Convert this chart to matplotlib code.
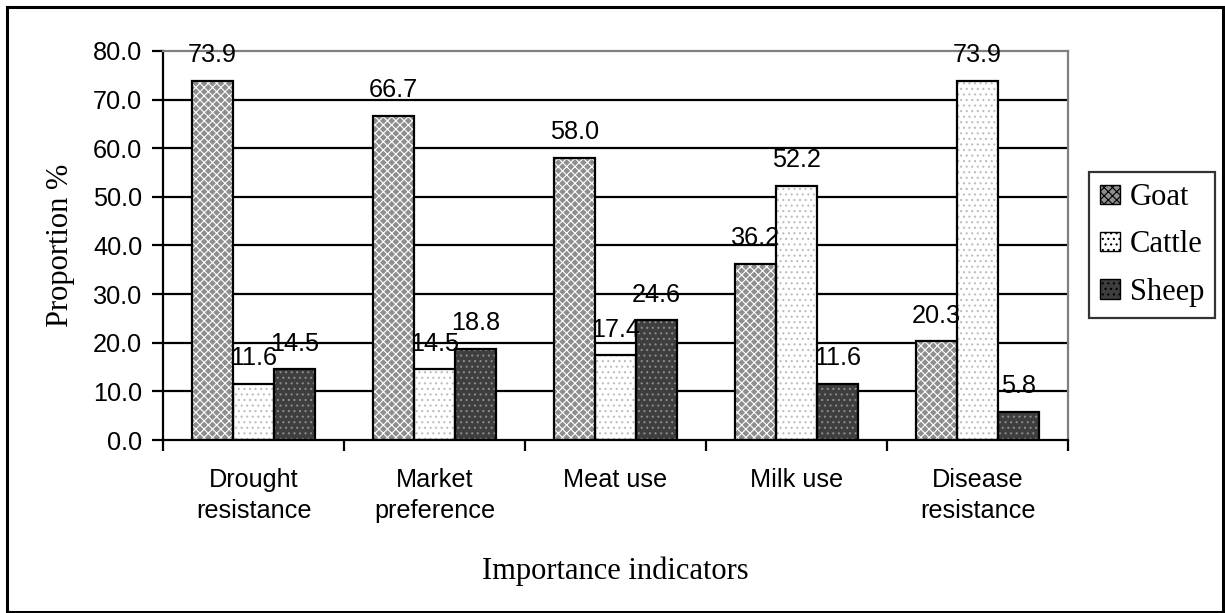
import matplotlib
matplotlib.use("Agg")
import matplotlib.pyplot as plt
from matplotlib.patches import Rectangle, Patch
import numpy as np

categories = ["Drought\nresistance", "Market\npreference", "Meat use", "Milk use", "Disease\nresistance"]
series_names = ["Goat", "Cattle", "Sheep"]
goat = [73.9, 66.7, 58.0, 36.2, 20.3]
cattle = [11.6, 14.5, 17.4, 52.2, 73.9]
sheep = [14.5, 18.8, 24.6, 11.6, 5.8]
y_ticks = [0, 10, 20, 30, 40, 50, 60, 70, 80]

SANS = "Liberation Sans"
SERIF = "Liberation Serif"
FS = 18.2

# face colour, hatch pattern, hatch colour for each series
styles = [
    ("#8e8e8e", "xxxx", "#ffffff"),
    ("#ffffff", "...", "#bdbdbd"),
    ("#3e3e3e", "...", "#8a8a8a"),
]

plt.rcParams["hatch.linewidth"] = 0.8

fig = plt.figure(figsize=(12.25, 6.13), dpi=100)
ax = fig.add_axes([163 / 1225, 1 - 440 / 613, (1068 - 163) / 1225, (440 - 51) / 613])

x = np.arange(len(categories))
w = 0.2265
data = [goat, cattle, sheep]
for k, (vals, (fc, hatch, hc)) in enumerate(zip(data, styles)):
    pos = x + (k - 1) * w
    ax.bar(pos, vals, w, color=fc, hatch=hatch, edgecolor=hc, linewidth=0, zorder=2)
    ax.bar(pos, vals, w, fill=False, edgecolor="black", linewidth=1.6, zorder=3)
    for px, v in zip(pos, vals):
        ax.annotate(f"{v:.1f}", (px, v), xytext=(0, 13.5), textcoords="offset points",
                    ha="center", va="baseline", fontsize=FS, family=SANS, zorder=4)

ax.set_xlim(-0.5, len(categories) - 0.5)
ax.set_ylim(0, 80)
ax.set_yticks(y_ticks)
ax.set_yticklabels([f"{t:.1f}" for t in y_ticks], family=SANS, fontsize=FS)
for t in y_ticks[1:-1]:
    ax.axhline(t, color="black", linewidth=1.6, zorder=1)

ax.set_xticks(np.arange(-0.5, len(categories), 1.0))
ax.set_xticklabels([])
ax.set_xticks(x, minor=True)
ax.set_xticklabels(categories, minor=True, family=SANS, fontsize=FS, va="top", linespacing=1.38)
ax.tick_params(axis="x", which="minor", length=0, pad=20)
ax.tick_params(axis="x", which="major", length=8, width=1.6, direction="out")
ax.tick_params(axis="y", length=8, width=1.6, direction="out", pad=7)

for side in ("left", "bottom"):
    ax.spines[side].set_color("black")
    ax.spines[side].set_linewidth(1.6)
for side in ("top", "right"):
    ax.spines[side].set_color("#808080")
    ax.spines[side].set_linewidth(1.6)

ax.set_xlabel("Importance indicators", family=SERIF, fontsize=22, labelpad=24)
ax.set_ylabel("Proportion %", family=SERIF, fontsize=22, labelpad=13)

handles = [Patch(facecolor=fc, hatch=h, edgecolor="black", linewidth=1.0)
           for fc, h, hc in styles]
leg = fig.legend(handles, series_names, loc="upper left",
                 bbox_to_anchor=(1089 / 1225, 1 - 172 / 613), borderaxespad=0,
                 prop={"family": SERIF, "size": 22}, frameon=True, fancybox=False,
                 handlelength=0.65, handleheight=0.6, handletextpad=0.33,
                 labelspacing=0.6, borderpad=0.36)
leg.get_frame().set_edgecolor("black")
leg.get_frame().set_linewidth(1.6)

fig.add_artist(Rectangle((7 / 1225, 1 / 613), 1216 / 1225, 605 / 613, transform=fig.transFigure,
                         fill=False, edgecolor="black", linewidth=2.2))

fig.savefig("out.png", dpi=100)
